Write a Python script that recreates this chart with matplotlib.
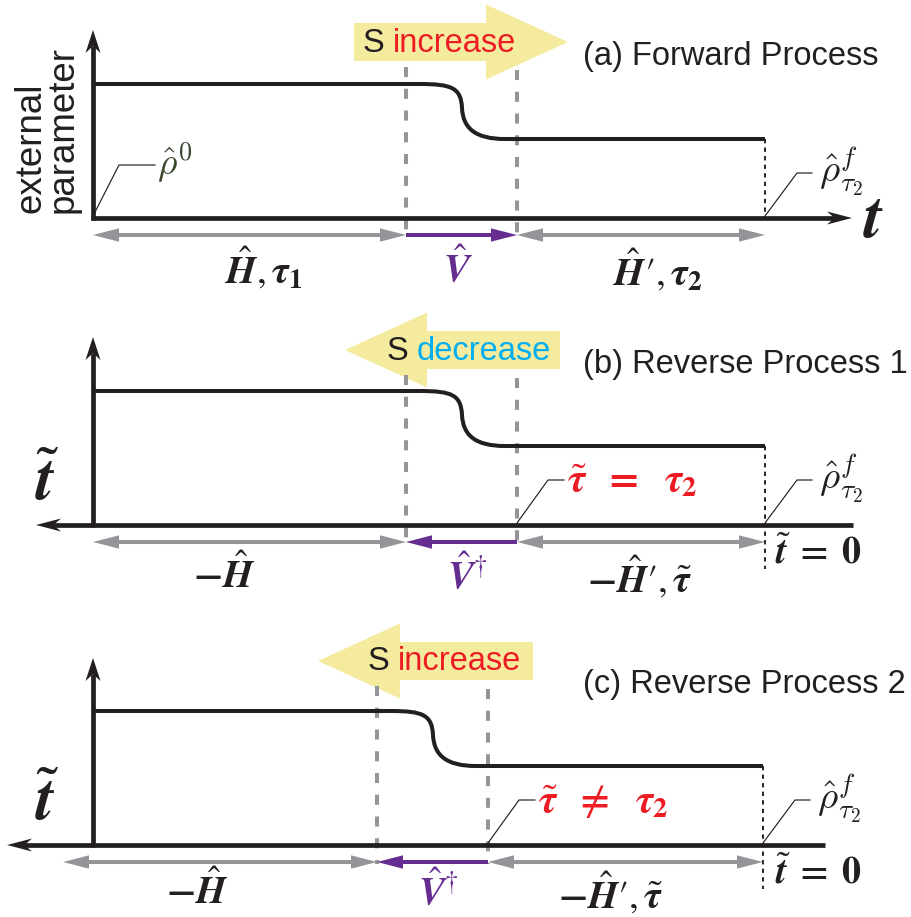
#!/usr/bin/env python3
"""Schematic: forward vs reverse processes of an external parameter."""
import matplotlib
matplotlib.use("Agg")
import matplotlib.pyplot as plt
from matplotlib.path import Path
from matplotlib.patches import PathPatch, Polygon

plt.rcParams["font.family"] = ["Liberation Sans", "DejaVu Sans"]
plt.rcParams["mathtext.fontset"] = "cm"

W, H = 911, 917

# schematic values, in the pixel frame of the figure (one entry per panel)
titles = ["(a) Forward Process", "(b) Reverse Process 1", "(c) Reverse Process 2"]
s_words = ["increase", "decrease", "increase"]
s_colors = ["#ed1c24", "#00aeef", "#ed1c24"]
time_axis = [218, 525, 845]        # time axis height
level_high = [84, 391, 711]        # parameter before V
level_low = [139, 446, 766]        # parameter after V
v_start = [406, 406, 377]          # V switched on
v_end = [517, 517, 488]            # V switched off
t_final = [765, 765, 763]
axis_left = [93, 36, 7]            # left end of time axis
axis_right = [852, 853, 825]
yaxis_top = [30, 337, 658]
arrow_left = [93, 93, 63]          # left end of the H arrow
forward = [True, False, False]
s_tail = [354, 560, 533]
s_tip = [568, 345, 318]
s_mid = [42, 350, 661]
s_text_x = [363, 387, 368]
title_y = [57, 365, 685]
label_y = [268, 575, 891]
h_x = [264, 224, 197]
v_x = [458, 467, 438]
h2_x = [658, 640, 611]
h_labels = [r"$\hat{\mathbfit{H}}, \mathbfit{\tau}_{\mathbf{1}}$",
            r"$\mathbf{-}\hat{\mathbfit{H}}$", r"$\mathbf{-}\hat{\mathbfit{H}}$"]
v_labels = [r"$\hat{\mathbfit{V}}$", r"$\hat{\mathbfit{V}}^{\dagger}$", r"$\hat{\mathbfit{V}}^{\dagger}$"]
h2_labels = [r"$\hat{\mathbfit{H}}\prime, \mathbfit{\tau}_{\mathbf{2}}$",
             r"$\mathbf{-}\hat{\mathbfit{H}}\prime, \tilde{\mathbfit{\tau}}$",
             r"$\mathbf{-}\hat{\mathbfit{H}}\prime, \tilde{\mathbfit{\tau}}$"]
tau_labels = [None, r"$\tilde{\mathbfit{\tau}}\ \ \mathbf{=}\ \ \mathbfit{\tau}_{\mathbf{2}}$",
              r"$\tilde{\mathbfit{\tau}}\ \ \mathbf{\neq}\ \ \mathbfit{\tau}_{\mathbf{2}}$"]

BLACK = "#231f20"
GRAY = "#939598"
PURPLE = "#662d91"
YELLOW = "#f4eb9e"


def head(ax, x, y, dx, dy, length, half, color, notch=0.0):
    px, py = -dy, dx
    pts = [(x, y),
           (x - dx * length + px * half, y - dy * length + py * half),
           (x - dx * length * (1 - notch), y - dy * length * (1 - notch)),
           (x - dx * length - px * half, y - dy * length - py * half)]
    ax.add_patch(Polygon(pts, closed=True, fc=color, ec="none", zorder=5))


def span(ax, x0, x1, y, color, left=True, right=True):
    a = x0 + (20 if left else 0)
    b = x1 - (20 if right else 0)
    ax.plot([a, b], [y, y], color=color, lw=2.9, solid_capstyle="butt", zorder=4)
    if left:
        head(ax, x0, y, -1, 0, 26, 6.7, color)
    if right:
        head(ax, x1, y, 1, 0, 26, 6.7, color)


def leader(ax, x0, y0, x1, y1, x2):
    ax.plot([x0, x1, x2], [y0, y1, y1], color=BLACK, lw=0.85, zorder=6)


def bold_math(ax, x, y, s, size, color=BLACK, ha="center"):
    ax.text(x, y, s, fontsize=size, ha=ha, va="center", color=color, math_fontfamily="stix")


fig = plt.figure(figsize=(W / 100, H / 100), dpi=100)
ax = fig.add_axes([0, 0, 1, 1])
ax.set_xlim(0, W)
ax.set_ylim(H, 0)
ax.axis("off")

for i in range(3):
    y0 = time_axis[i]
    hi, lo = level_high[i], level_low[i]
    s = v_start[i] - 406

    # yellow S arrow
    d = 1 if s_tip[i] > s_tail[i] else -1
    hb = s_tip[i] - d * 82
    m = s_mid[i]
    ax.add_patch(Polygon([(s_tail[i], m - 19), (hb, m - 19), (hb, m - 37.5), (s_tip[i], m),
                          (hb, m + 37.5), (hb, m + 19), (s_tail[i], m + 19)],
                         closed=True, fc=YELLOW, ec="none", zorder=1))
    sx = s_text_x[i]
    ax.text(sx, m + 1, "S", fontsize=23.5, color=BLACK, ha="left", va="center", zorder=7)
    ax.text(sx + 30, m + 1, s_words[i], fontsize=23.5, color=s_colors[i], ha="left", va="center", zorder=7)

    ax.text(583, title_y[i], titles[i], fontsize=23.5, color=BLACK, ha="left", va="center")

    # dashed switch lines
    for xv in (v_start[i], v_end[i]):
        top = s_mid[i] + 25 if xv == v_start[i] else s_mid[i] + 28
        ax.plot([xv, xv], [top, y0 + 19], color=GRAY, lw=2.9, dashes=(2.5, 2.9), zorder=2)

    # parameter protocol
    verts = [(93, hi), (420 + s, hi),
             (452 + s, hi), (461 + s, hi + 4), (462 + s, hi + 24),
             (463 + s, hi + 44), (475 + s, lo), (505 + s, lo),
             (t_final[i], lo)]
    codes = [Path.MOVETO, Path.LINETO] + [Path.CURVE4] * 6 + [Path.LINETO]
    ax.add_patch(PathPatch(Path(verts, codes), fc="none", ec=BLACK, lw=2.9, zorder=3))
    ax.plot([t_final[i], t_final[i]], [lo, y0 if forward[i] else y0 + 44],
            color=BLACK, lw=1.4, dashes=(2.2, 2.2), zorder=3)

    # axes
    ax.plot([93, 93], [y0 + 2, yaxis_top[i] + 16], color=BLACK, lw=3.4, solid_capstyle="butt", zorder=4)
    head(ax, 93, yaxis_top[i], 0, -1, 23, 7.5, BLACK, notch=0.3)
    if forward[i]:
        ax.plot([91, axis_right[i] - 16], [y0, y0], color=BLACK, lw=3.4, solid_capstyle="butt", zorder=4)
        head(ax, axis_right[i], y0, 1, 0, 25, 6.5, BLACK, notch=0.3)
        bold_math(ax, 874, y0 + 2, r"$\mathbfit{t}$", 47)
    else:
        ax.plot([axis_left[i] + 16, axis_right[i]], [y0, y0], color=BLACK, lw=3.4,
                solid_capstyle="butt", zorder=4)
        head(ax, axis_left[i], y0, -1, 0, 25, 6.5, BLACK, notch=0.3)
        bold_math(ax, 47, y0 - 42, r"$\tilde{\mathbfit{t}}$", 46)
        bold_math(ax, 775, y0 + 28, r"$\tilde{\mathbfit{t}}\;\mathbf{=}\;\mathbf{0}$", 27.5, ha="left")

    # duration arrows
    ay = y0 + 17
    span(ax, arrow_left[i], v_start[i], ay, GRAY)
    if forward[i]:
        span(ax, v_start[i], v_end[i], ay, PURPLE, left=False)
    else:
        span(ax, v_start[i], v_end[i], ay, PURPLE, right=False)
    span(ax, v_end[i], t_final[i], ay, GRAY)

    bold_math(ax, h_x[i], label_y[i], h_labels[i], 28)
    bold_math(ax, v_x[i], label_y[i], v_labels[i], 28, color=PURPLE)
    bold_math(ax, h2_x[i], label_y[i] + 2, h2_labels[i], 28)

    # annotations
    leader(ax, t_final[i], y0 - 2, t_final[i] + 32, y0 - 45, t_final[i] + 47)
    ax.text(t_final[i] + 54, y0 - 46, r"$\hat{\rho}^{f}_{\tau_2}$", fontsize=28,
            ha="left", va="center", color=BLACK)
    if tau_labels[i]:
        leader(ax, v_end[i], y0 - 2, v_end[i] + 31, y0 - 45, v_end[i] + 47)
        bold_math(ax, v_end[i] + 50, y0 - 44, tau_labels[i], 29, color="#ed1c24", ha="left")

leader(ax, 93, time_axis[0] - 2, 119, time_axis[0] - 53, 155)
ax.text(157, time_axis[0] - 55, r"$\hat{\rho}^{0}$", fontsize=27, ha="left", va="center", color="#3b4a2f")

ax.text(41, 213, "external", fontsize=26.5, rotation=90, rotation_mode="anchor",
        ha="left", va="baseline", color=BLACK)
ax.text(73, 213, "parameter", fontsize=26.5, rotation=90, rotation_mode="anchor",
        ha="left", va="baseline", color=BLACK)

fig.savefig("out.png", dpi=100)
